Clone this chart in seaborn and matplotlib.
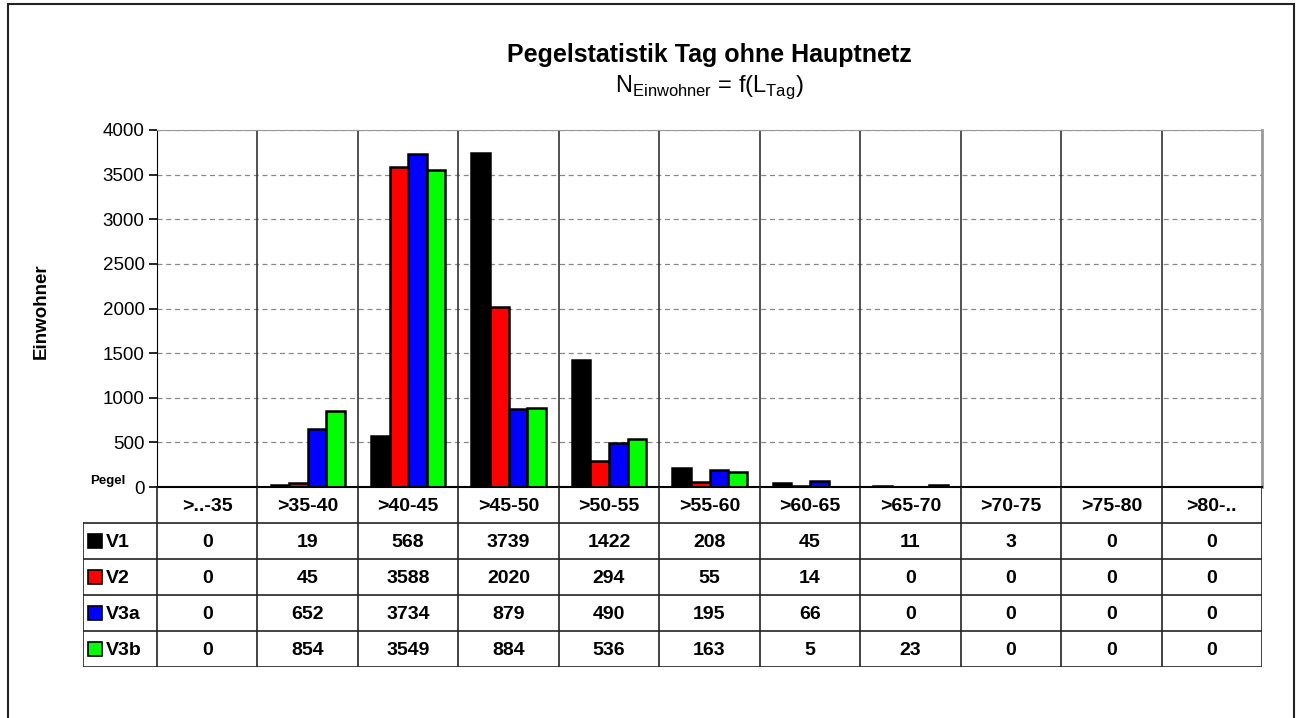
import pandas as pd
import matplotlib.pyplot as plt
import seaborn as sns
from matplotlib.patches import Rectangle

# Data
categories = ['>..-35', '>35-40', '>40-45', '>45-50', '>50-55', '>55-60',
              '>60-65', '>65-70', '>70-75', '>75-80', '>80-..']
series = ['V1', 'V2', 'V3a', 'V3b']
v1 = [0, 19, 568, 3739, 1422, 208, 45, 11, 3, 0, 0]
v2 = [0, 45, 3588, 2020, 294, 55, 14, 0, 0, 0, 0]
v3a = [0, 652, 3734, 879, 490, 195, 66, 0, 0, 0, 0]
v3b = [0, 854, 3549, 884, 536, 163, 5, 23, 0, 0, 0]
colors = ['#000000', '#ff0000', '#0000ff', '#00ff00']

values = [v1, v2, v3a, v3b]
df = pd.DataFrame({
    'Pegel': categories * len(series),
    'Einwohner': sum(values, []),
    'Variante': [s for s in series for _ in categories],
})

sns.set_style('white')
plt.rcParams['font.family'] = ['Liberation Sans', 'DejaVu Sans']
plt.rcParams['text.color'] = 'black'
plt.rcParams['ytick.color'] = 'black'
plt.rcParams['ytick.labelcolor'] = 'black'

W, H = 1298, 718
fig = plt.figure(figsize=(W / 100, H / 100), dpi=100)

# outer frame
fig.patches.append(Rectangle((8 / W, -0.01), (1294 - 8) / W, 1 - 4 / H + 0.01,
                             transform=fig.transFigure, fill=False,
                             edgecolor='#222222', linewidth=1.5))

# bar axes
x0, x1, ytop, ybot = 157, 1262, 130, 487
ax = fig.add_axes([x0 / W, 1 - ybot / H, (x1 - x0) / W, (ybot - ytop) / H])
sns.barplot(data=df, x='Pegel', y='Einwohner', hue='Variante', order=categories,
            hue_order=series, palette=colors, width=0.74, edgecolor='black',
            linewidth=1.8, saturation=1, ax=ax, legend=False)
ax.set_xlim(-0.5, len(categories) - 0.5)
ax.set_ylim(0, 4000)
ax.set_yticks(range(0, 4001, 500))
ax.tick_params(axis='y', labelsize=13.5, length=6, width=1.2, direction='out',
               color='black', labelcolor='black', left=True, pad=3)
ax.set_xticks([])
ax.set_xlabel('')
ax.set_ylabel('')
for y in range(500, 4001, 500):
    ax.axhline(y, color='#888888', linestyle=(0, (4, 3)), linewidth=0.9, zorder=0)
for i in range(1, len(categories)):
    ax.axvline(i - 0.5, color='#333333', linewidth=1.2, zorder=0)
ax.spines['left'].set_color('black')
ax.spines['bottom'].set_color('black')
ax.spines['bottom'].set_linewidth(1.5)
ax.spines['top'].set_color('#999999')
ax.spines['right'].set_color('#999999')
ax.spines['right'].set_linewidth(2)

fig.text(41 / W, 1 - 311 / H, 'Einwohner', rotation=90, ha='center', va='center',
         fontsize=13.5, fontweight='bold', color='black')
fig.text(108 / W, 1 - 481 / H, 'Pegel', ha='center', va='center', fontsize=9.5,
         fontweight='bold', color='black')

fig.text(0.5 * (157 + 1262) / W, 1 - 55 / H, 'Pegelstatistik Tag ohne Hauptnetz',
         ha='center', va='center', fontsize=18, fontweight='bold', color='black')
fig.text(0.5 * (157 + 1262) / W, 1 - 87 / H, r'N$_{\mathregular{Einwohner}}$ = f(L$_{\mathregular{Tag}}$)',
         ha='center', va='center', fontsize=17, color='black')

# data table below the chart
tleft, ttop, tbot = 83, 487, 667
lab_w = (x0 - tleft) / ((x1 - x0) / len(categories))
tax = fig.add_axes([tleft / W, 1 - tbot / H, (x1 - tleft) / W, (tbot - ttop) / H])
tax.set_xlim(-0.5 - lab_w, len(categories) - 0.5)
tax.set_ylim(5, 0)
tax.axis('off')
lc = '#222222'
for i in range(len(categories) + 1):
    tax.plot([i - 0.5, i - 0.5], [0, 5], color=lc, lw=1.2)
for r in range(1, 6):
    tax.plot([-0.5 - lab_w, len(categories) - 0.5], [r, r], color=lc, lw=1.2)
tax.plot([-0.5 - lab_w, -0.5 - lab_w], [1, 5], color=lc, lw=1.2)
for i, c in enumerate(categories):
    tax.text(i, 0.55, c, ha='center', va='center', fontsize=14, fontweight='bold', color='black')
for r, (s, vals, col) in enumerate(zip(series, values, colors)):
    yy = r + 1.5
    tax.add_patch(Rectangle((-0.5 - lab_w + 0.05, yy - 0.2), 0.14, 0.4,
                            facecolor=col, edgecolor='black', lw=1.2))
    tax.text(-0.5 - lab_w + 0.23, yy + 0.05, s, ha='left', va='center',
             fontsize=14, fontweight='bold', color='black')
    for i, v in enumerate(vals):
        tax.text(i, yy + 0.05, str(v), ha='center', va='center', fontsize=14,
                 fontweight='bold', color='black')

fig.savefig('out.png', dpi=100)
